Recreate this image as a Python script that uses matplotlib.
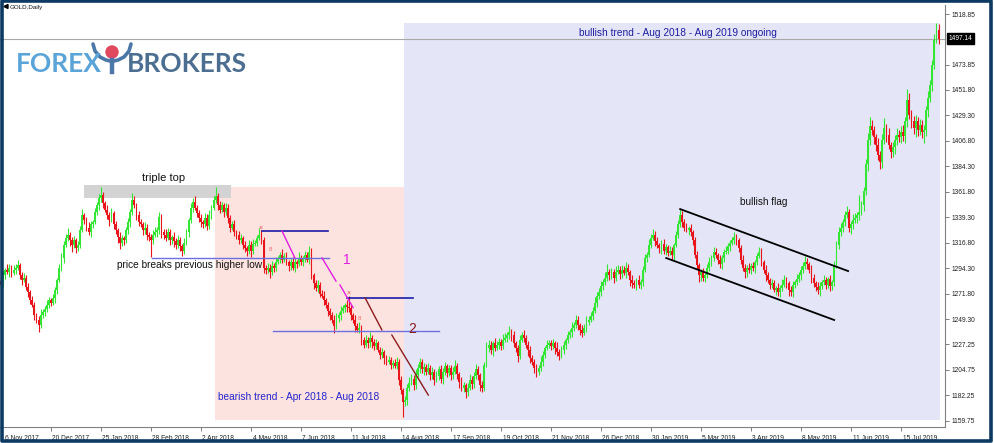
import matplotlib
matplotlib.use("Agg")
import matplotlib.pyplot as plt
import matplotlib.transforms as mtransforms
from matplotlib.patches import Rectangle, Polygon, Circle
import numpy as np

plt.rcParams['font.family'] = ['Liberation Sans', 'DejaVu Sans']

# ---------------- data (GOLD, Daily) ----------------
first_open = 1283
closes = [
    1280, 1288, 1293, 1291, 1295, 1290, 1293, 1295, 1297, 1288, 1284, 1286, 1278, 1273, 1266, 1262, 1253, 1249, 1244, 1253, 1256, 1258, 1262, 1266,
    1264, 1268, 1275, 1284, 1295, 1303, 1315, 1321, 1324, 1319, 1315, 1319, 1312, 1315, 1328, 1341, 1337, 1330, 1326, 1333, 1335, 1344, 1350, 1356,
    1359, 1352, 1346, 1341, 1337, 1343, 1333, 1328, 1322, 1317, 1321, 1319, 1328, 1335, 1344, 1355, 1350, 1341, 1335, 1333, 1328, 1330, 1324, 1322,
    1319, 1324, 1326, 1328, 1340, 1326, 1324, 1321, 1326, 1319, 1322, 1318, 1315, 1319, 1314, 1310, 1317, 1326, 1337, 1348, 1353, 1348, 1343, 1339,
    1335, 1333, 1339, 1332, 1341, 1348, 1355, 1358, 1350, 1346, 1350, 1344, 1348, 1339, 1330, 1333, 1326, 1324, 1319, 1321, 1315, 1312, 1310, 1315,
    1310, 1316, 1317, 1321, 1324, 1319, 1295, 1293, 1295, 1291, 1296, 1295, 1300, 1303, 1306, 1302, 1305, 1300, 1296, 1300, 1295, 1300, 1298, 1303,
    1300, 1303, 1306, 1302, 1309, 1288, 1281, 1277, 1280, 1272, 1270, 1266, 1262, 1257, 1253, 1249, 1243, 1250, 1253, 1257, 1259, 1262, 1260, 1259,
    1253, 1249, 1243, 1240, 1242, 1231, 1227, 1231, 1228, 1233, 1229, 1226, 1228, 1222, 1218, 1220, 1215, 1212, 1213, 1209, 1211, 1208, 1212, 1196,
    1187, 1176, 1178, 1189, 1193, 1197, 1191, 1200, 1206, 1212, 1205, 1207, 1203, 1206, 1200, 1203, 1196, 1199, 1205, 1197, 1203, 1208, 1202, 1206,
    1200, 1203, 1208, 1201, 1194, 1189, 1191, 1185, 1189, 1196, 1192, 1199, 1205, 1200, 1191, 1189, 1209, 1224, 1227, 1222, 1228, 1224, 1227, 1229,
    1226, 1231, 1233, 1235, 1238, 1235, 1228, 1224, 1217, 1231, 1235, 1233, 1227, 1222, 1215, 1212, 1206, 1203, 1206, 1212, 1218, 1224, 1227, 1228,
    1226, 1228, 1224, 1220, 1217, 1222, 1227, 1231, 1235, 1238, 1242, 1244, 1249, 1244, 1240, 1237, 1242, 1247, 1249, 1252, 1257, 1264, 1270, 1273,
    1279, 1282, 1286, 1291, 1288, 1291, 1286, 1291, 1293, 1289, 1293, 1290, 1295, 1291, 1284, 1281, 1280, 1284, 1280, 1282, 1293, 1303, 1306, 1315,
    1321, 1324, 1318, 1315, 1312, 1316, 1310, 1313, 1308, 1310, 1306, 1315, 1324, 1333, 1341, 1335, 1330, 1328, 1330, 1326, 1319, 1306, 1297, 1288,
    1291, 1286, 1288, 1295, 1300, 1303, 1309, 1306, 1302, 1298, 1303, 1309, 1310, 1314, 1317, 1319, 1322, 1319, 1312, 1302, 1295, 1291, 1295, 1293,
    1296, 1295, 1300, 1305, 1309, 1300, 1293, 1288, 1284, 1280, 1281, 1275, 1277, 1273, 1277, 1280, 1284, 1281, 1275, 1273, 1280, 1282, 1285, 1288,
    1293, 1296, 1300, 1298, 1293, 1286, 1281, 1278, 1275, 1279, 1282, 1284, 1280, 1285, 1279, 1282, 1297, 1315, 1326, 1330, 1335, 1341, 1344, 1330,
    1333, 1337, 1339, 1341, 1344, 1350, 1363, 1386, 1408, 1420, 1416, 1410, 1403, 1394, 1388, 1408, 1418, 1412, 1403, 1397, 1401, 1408, 1412, 1410,
    1415, 1411, 1424, 1443, 1430, 1424, 1418, 1424, 1416, 1421, 1415, 1416, 1434, 1445, 1456, 1474, 1496, 1505, 1497.14,
]
wick_hi = [
    3, 4, 2, 5, 3, 2, 4, 3, 5, 2, 3, 4, 2, 3, 2, 4, 3, 2, 3, 5, 2, 3, 4, 3,
    2, 4, 3, 2, 3, 5, 3, 4, 6, 2, 3, 4, 2, 3, 4, 6, 2, 3, 5, 3, 2, 4, 3, 4,
    7, 3, 2, 4, 3, 5, 2, 3, 2, 4, 3, 2, 3, 4, 3, 6, 3, 2, 4, 3, 2, 5, 3, 2,
    3, 4, 5, 3, 4, 2, 3, 5, 4, 3, 2, 4, 3, 5, 3, 2, 4, 3, 2, 4, 3, 5, 2, 3,
    3, 2, 4, 3, 5, 2, 3, 8, 3, 4, 3, 2, 4, 3, 2, 3, 4, 2, 3, 4, 2, 3, 2, 4,
    3, 4, 2, 3, 6, 4, 3, 2, 4, 3, 5, 3, 4, 2, 3, 5, 3, 4, 2, 3, 4, 3, 2, 6,
    3, 2, 4, 3, 5, 3, 2, 3, 4, 2, 3, 4, 2, 3, 2, 3, 4, 5, 3, 4, 3, 2, 4, 10,
    3, 2, 4, 3, 5, 2, 3, 4, 3, 5, 2, 3, 4, 2, 3, 4, 2, 3, 4, 3, 2, 3, 4, 2,
    3, 2, 4, 3, 5, 4, 3, 5, 4, 3, 2, 4, 3, 5, 3, 4, 2, 5, 3, 4, 3, 4, 2, 3,
    3, 4, 5, 3, 2, 4, 3, 2, 4, 5, 3, 4, 5, 3, 2, 4, 3, 5, 4, 3, 2, 5, 3, 4,
    3, 5, 4, 3, 5, 3, 4, 2, 3, 4, 3, 5, 2, 3, 4, 3, 2, 4, 3, 5, 3, 2, 4, 3,
    3, 4, 2, 5, 3, 4, 3, 2, 4, 3, 5, 3, 4, 3, 2, 4, 3, 5, 3, 4, 3, 5, 3, 4,
    4, 3, 5, 7, 3, 4, 3, 5, 4, 3, 4, 3, 5, 3, 2, 4, 3, 2, 4, 3, 3, 4, 3, 5,
    4, 5, 3, 4, 2, 3, 4, 3, 2, 4, 3, 2, 3, 4, 6, 4, 3, 4, 2, 3, 2, 3, 4, 2,
    3, 4, 2, 3, 4, 3, 4, 3, 2, 4, 3, 2, 4, 3, 2, 3, 4, 3, 2, 3, 4, 3, 2, 4,
    3, 4, 2, 3, 4, 3, 2, 4, 3, 2, 4, 3, 2, 4, 3, 5, 4, 3, 2, 4, 3, 2, 4, 3,
    3, 4, 5, 3, 2, 4, 3, 2, 4, 3, 2, 4, 3, 2, 3, 2, 4, 3, 5, 4, 3, 4, 5, 3,
    3, 5, 4, 3, 15, 4, 3, 5, 6, 8, 5, 4, 3, 6, 4, 5, 9, 4, 6, 3, 5, 4, 6, 4,
    5, 6, 4, 10, 6, 4, 5, 6, 4, 5, 4, 5, 4, 6, 5, 4, 5, 6, 5,
]
wick_lo = [
    4, 2, 3, 2, 4, 3, 2, 4, 2, 3, 4, 2, 3, 4, 3, 2, 4, 3, 6, 2, 3, 4, 2, 3,
    3, 2, 4, 3, 2, 3, 4, 2, 3, 5, 6, 3, 4, 2, 3, 2, 4, 3, 2, 4, 3, 2, 3, 4,
    3, 4, 2, 3, 5, 2, 4, 3, 5, 6, 3, 4, 2, 3, 4, 3, 2, 4, 3, 2, 4, 3, 5, 4,
    15, 3, 2, 4, 3, 5, 4, 3, 2, 4, 3, 5, 4, 3, 4, 5, 3, 2, 4, 3, 4, 2, 3, 4,
    4, 3, 2, 4, 3, 3, 2, 3, 4, 3, 2, 4, 3, 5, 4, 2, 3, 4, 3, 2, 4, 3, 5, 3,
    6, 3, 2, 3, 2, 3, 5, 4, 3, 5, 3, 4, 3, 2, 4, 3, 2, 3, 4, 3, 2, 4, 3, 2,
    3, 4, 3, 2, 4, 3, 5, 3, 4, 3, 2, 4, 3, 5, 4, 3, 6, 2, 3, 4, 2, 3, 4, 3,
    4, 3, 5, 2, 3, 4, 3, 2, 4, 3, 5, 4, 3, 2, 4, 3, 5, 3, 2, 4, 3, 2, 3, 5,
    4, 13, 3, 4, 3, 2, 4, 3, 2, 4, 3, 5, 3, 2, 4, 3, 5, 2, 3, 4, 5, 3, 4, 3,
    4, 3, 2, 4, 5, 3, 4, 5, 3, 2, 4, 3, 2, 4, 5, 4, 3, 2, 4, 3, 5, 3, 2, 4,
    4, 3, 2, 4, 3, 5, 3, 4, 5, 3, 2, 4, 3, 5, 4, 3, 4, 5, 3, 2, 4, 3, 2, 3,
    4, 3, 5, 3, 4, 2, 3, 4, 3, 2, 4, 3, 2, 4, 5, 3, 2, 4, 3, 2, 3, 2, 4, 3,
    3, 4, 2, 3, 4, 3, 5, 3, 2, 4, 3, 2, 4, 3, 5, 4, 3, 5, 3, 4, 3, 2, 3, 2,
    3, 2, 4, 3, 4, 5, 3, 4, 3, 2, 4, 5, 2, 3, 2, 4, 3, 2, 4, 3, 4, 3, 3, 6,
    5, 3, 4, 2, 3, 4, 2, 3, 4, 3, 4, 3, 2, 3, 4, 2, 3, 4, 3, 4, 3, 5, 4, 3,
    4, 3, 5, 3, 2, 4, 3, 5, 3, 4, 3, 2, 4, 3, 4, 3, 2, 4, 5, 3, 4, 3, 2, 3,
    4, 3, 2, 4, 3, 5, 3, 4, 3, 5, 3, 2, 4, 3, 5, 4, 3, 2, 4, 3, 4, 3, 2, 4,
    5, 4, 3, 5, 4, 3, 5, 4, 6, 5, 4, 6, 5, 4, 6, 5, 4, 6, 3, 5, 4, 6, 5, 4,
    5, 4, 6, 5, 4, 6, 5, 8, 5, 4, 6, 10, 5, 6, 4, 5, 4, 3, 5,
]
date_labels = ["6 Nov 2017", "20 Dec 2017", "25 Jan 2018", "28 Feb 2018", "2 Apr 2018",
               "4 May 2018", "7 Jun 2018", "11 Jul 2018", "14 Aug 2018", "17 Sep 2018",
               "19 Oct 2018", "21 Nov 2018", "26 Dec 2018", "30 Jan 2019", "5 Mar 2019",
               "3 Apr 2019", "8 May 2019", "11 Jun 2019", "15 Jul 2019"]
bars_per_label = 24
price_ticks = [1518.85, 1473.85, 1451.80, 1429.30, 1406.80, 1384.30, 1361.80, 1339.30,
               1316.80, 1294.30, 1271.80, 1249.30, 1227.25, 1204.75, 1182.25, 1159.75]
last_price = 1497.14

# ---------------- derived OHLC ----------------
c = np.array(closes, float)
n = len(c)
o = np.concatenate([[first_open], c[:-1]])
hi = np.maximum(o, c) + np.array(wick_hi, float)
lo = np.minimum(o, c) - np.array(wick_lo, float)
x = np.arange(n)
up = c >= o
BULL, BEAR = '#33e633', '#e8161c'
cols = np.where(up, BULL, BEAR)

# ---------------- figure ----------------
W, H = 995, 443
fig = plt.figure(figsize=(W / 100, H / 100), dpi=100)
fig.patch.set_facecolor('white')
ax = fig.add_axes([0, 1 - 427 / H, 945 / W, (427 - 5) / H])
ax.set_facecolor('white')
ppb = 50 / 24.0
ax.set_xlim(-1 / ppb, (945 - 1) / ppb)
ax.set_ylim(1154.2, 1526.8)

# zones
ax.add_patch(Rectangle((102.7, 1160.3), 193.5 - 102.7, 1366.1 - 1160.3,
                       facecolor='#fde3df', edgecolor='none', zorder=0))
ax.add_patch(Rectangle((193.5, 1160.3), 450.8 - 193.5, 1510.9 - 1160.3,
                       facecolor='#e4e6f7', edgecolor='none', zorder=0))
ax.add_patch(Rectangle((39.8, 1356.4), 110.4 - 39.8, 1367.9 - 1356.4,
                       facecolor='#d3d3d3', edgecolor='none', zorder=1))

ax.axhline(last_price, color='#a8a8a8', lw=0.8, zorder=2)

# candles
ax.vlines(x, lo, hi, colors=cols, lw=0.8, zorder=3)
body = np.maximum(np.abs(c - o), 0.8)
ax.bar(x, body, bottom=np.minimum(o, c), width=0.85, color=cols, linewidth=0, zorder=4)

# annotation lines
ax.plot([72.5, 157.5], [1303.6, 1303.6], color='#6e6ee0', lw=1.0, zorder=5)
ax.plot([125.3, 157.0], [1327.2, 1327.2], color='#1c1ca8', lw=1.2, zorder=5)
ax.plot([166.1, 197.8], [1268.1, 1268.1], color='#1c1ca8', lw=1.2, zorder=5)
ax.plot([130.6, 210.3], [1239.2, 1239.2], color='#6e6ee0', lw=1.0, zorder=5)
for (xa, ya, xb, yb) in [(134.9, 1327.2, 141.1, 1303.4), (154.1, 1303.4, 160.8, 1283.1),
                         (162.7, 1279.6, 169.0, 1259.6)]:
    ax.plot([xa, xb], [ya, yb], color='#e01ee0', lw=1.0, zorder=5)
for (xa, ya, xb, yb) in [(174.8, 1268.1, 182.8, 1240.0), (187.6, 1235.4, 205.1, 1182.4)]:
    ax.plot([xa, xb], [ya, yb], color='#8b1c1c', lw=1.0, zorder=5)
ax.plot([326.0, 406.6], [1346.6, 1291.9], color='black', lw=1.3, zorder=5)
ax.plot([319.3, 399.9], [1303.4, 1248.7], color='black', lw=1.3, zorder=5)

# texts
ax.text(77.8, 1369.5, 'triple top', fontsize=8, ha='center', va='bottom', color='#111111', zorder=6)
ax.text(90.7, 1296.9, 'price breaks previous higher low', fontsize=7.3, ha='center', va='center',
        color='#111111', zorder=6)
ax.text(166.0, 1301.6, '1', fontsize=10, ha='center', va='center', color='#e01ee0', zorder=6)
ax.text(197.5, 1240.5, '2', fontsize=10, ha='center', va='center', color='#8b1c1c', zorder=6)
ax.text(365.9, 1352.8, 'bullish flag', fontsize=7.2, ha='center', va='center', color='#111111', zorder=6)
ax.text(325.0, 1502.1, 'bullish trend - Aug 2018 - Aug 2019 ongoing', fontsize=7.3, ha='center',
        va='center', color='#1e1e9e', zorder=6)
ax.text(104.2, 1180.7, 'bearish trend - Apr 2018 - Aug 2018', fontsize=7.3, ha='left',
        va='center', color='#2424cc', zorder=6)
for (xm, ym) in [(124.8, 1329.5), (166.6, 1272.0)]:
    ax.text(xm, ym, '×', fontsize=5, ha='center', va='center', color='#e04848', zorder=6)
for (xm, ym) in [(129.2, 1310.5), (171.9, 1250.0)]:
    ax.text(xm, ym, '8', fontsize=4.5, ha='center', va='center', color='#f06a6a', zorder=6)

# axes styling
for s in ('top', 'left'):
    ax.spines[s].set_visible(False)
for s in ('right', 'bottom'):
    ax.spines[s].set_color('#808080')
    ax.spines[s].set_linewidth(0.8)
ax.yaxis.tick_right()
ax.set_yticks(price_ticks)
ax.set_yticklabels([f'{p:.2f}' for p in price_ticks])
ax.tick_params(axis='y', direction='out', length=3, width=0.6, color='#666666',
               labelsize=4.8, pad=2, labelcolor='#222222')
ax.set_xticks(np.arange(len(date_labels)) * bars_per_label)
ax.set_xticklabels(date_labels)
ax.tick_params(axis='x', direction='out', length=3, width=0.6, color='#666666',
               labelsize=4.8, pad=2.5, labelcolor='#222222')
for i, lab in enumerate(ax.get_xticklabels()):
    dx = 4.0 if i == 0 else 1.5
    lab.set_horizontalalignment('left')
    lab.set_transform(lab.get_transform() + mtransforms.ScaledTranslation(dx / 100, 0, fig.dpi_scale_trans))

trans = mtransforms.blended_transform_factory(ax.transAxes, ax.transData)
ax.text(1.004, last_price, f'{last_price:.2f}', transform=trans, fontsize=4.8, color='white',
        ha='left', va='center', zorder=7, clip_on=False,
        bbox=dict(facecolor='black', edgecolor='black', pad=1.2))

# ---------------- overlay: frame, title, logo ----------------
ov = fig.add_axes([0, 0, 1, 1], zorder=10)
ov.set_xlim(0, W)
ov.set_ylim(H, 0)
ov.axis('off')
ov.patch.set_alpha(0)
navy = '#0d3a62'
ov.add_patch(Rectangle((1.6, 1.3), W - 5.5, H - 3.6, facecolor='none', edgecolor=navy,
                       lw=2.6, joinstyle='round'))
ov.add_patch(Polygon([(4.0, 6.5), (8.0, 4.5), (8.0, 8.5)], closed=True, color='black'))
ov.text(10, 7.2, 'GOLD,Daily', fontsize=4.5, ha='left', va='center', color='#111111')

ov.text(16, 72, 'FOREX', fontsize=19, family='Lato', weight='bold', color='#5ba4d8',
        ha='left', va='baseline')
ov.text(127, 72, 'BROKERS', fontsize=19, family='Lato', weight='bold', color='#4c6e91',
        ha='left', va='baseline')
# bull icon
ov.plot([93, 95, 100, 106, 110], [44, 51, 57, 60, 61], color='#4c78a8', lw=2.6, solid_capstyle='round')
ov.plot([131, 129, 124, 118, 114], [44, 51, 57, 60, 61], color='#4c78a8', lw=2.6, solid_capstyle='round')
ov.plot([112, 112], [60, 72], color='#4c78a8', lw=3.2)
ov.add_patch(Circle((112, 52), 6, color='#e0485e'))

fig.savefig('out.png', dpi=100, facecolor='white')
